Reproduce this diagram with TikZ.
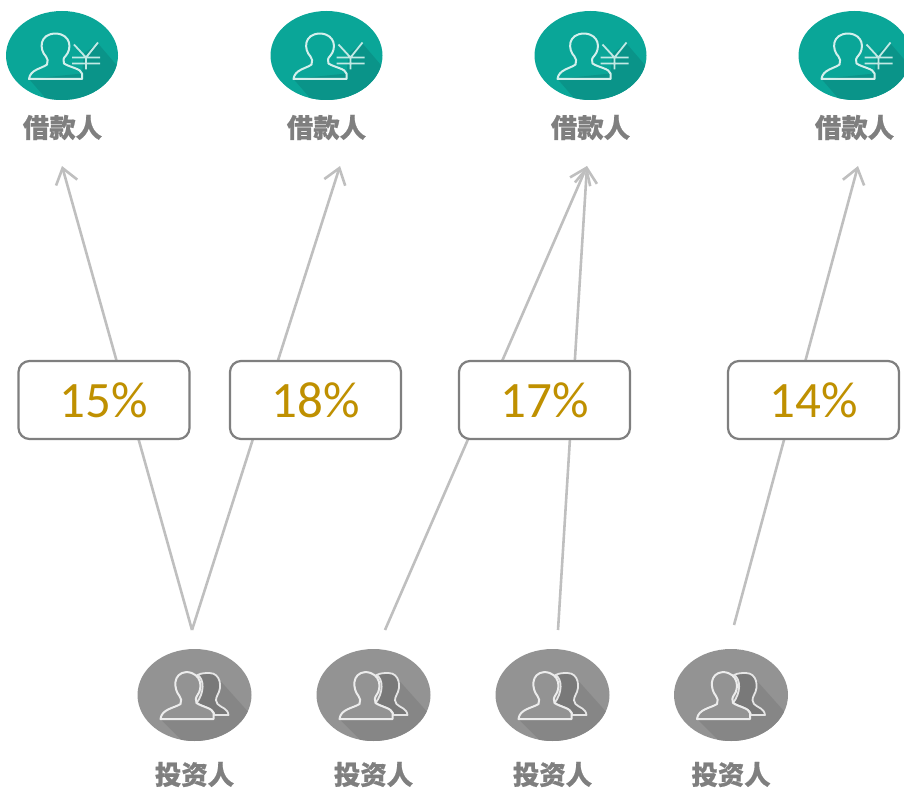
\documentclass[tikz,border=0pt]{standalone}
\usepackage{fontspec}
\usetikzlibrary{arrows.meta,backgrounds}
\newfontfamily\cjk[BoldFeatures={FakeBold=0.6}]{Noto Sans CJK SC}
\newfontfamily\pctfont{Carlito}
\definecolor{tealfill}{HTML}{0AA698}
\definecolor{tealshade}{HTML}{0A9489}
\definecolor{grayfill}{HTML}{939393}
\definecolor{grayshade}{HTML}{868686}
\definecolor{linegray}{HTML}{BFBFBF}
\definecolor{boxgray}{HTML}{7F7F7F}
\definecolor{gold}{HTML}{BF9000}
\tikzset{
  x=1pt,y=-1pt,
  iconline/.style={draw=white!82!tealfill,line width=2pt,line join=round},
  caption/.style={font=\cjk\bfseries\fontsize{26.4}{26.4}\selectfont,text=boxgray,inner sep=0pt},
  ratebox/.style={draw=boxgray,line width=2.2pt,fill=white,rounded corners=11pt,minimum width=171pt,minimum height=78pt,inner sep=0pt,font=\pctfont\fontsize{51}{51}\selectfont,text=gold},
  link/.style={draw=linegray,line width=2.6pt,-{Straight Barb[length=15pt,width=22pt,line width=2.6pt]}},
  pics/person/.style={code={
    \path[iconline] (-33,23.5) -- (20,23.5) -- (20,18) .. controls (19,13) and (8,12) .. (2,8)
      .. controls (1,5) and (1,3) .. (4,0) .. controls (10,-7) and (9,-21) .. (-6,-22)
      .. controls (-23,-22) and (-23,-6) .. (-16,1) .. controls (-14,3) and (-14,6) .. (-15,9)
      .. controls (-20,13) and (-32,14) .. (-33,23.5) -- cycle;
  }},
  pics/borrower/.style={code={
    \begin{scope}
      \clip (0,0) ellipse [x radius=56,y radius=44.5];
      \fill[tealfill] (-60,-50) rectangle (60,50);
      \fill[tealshade] (-33,23.5) -- (-10,50) -- (60,50) -- (60,16) -- (36,-12) -- (22,-2) -- (20,18) -- cycle;
    \end{scope}
    \pic {person};
    \draw[draw=white!75!tealfill,line width=1.8pt] (12,-11) -- (24,2) -- (36,-13) (24,2) -- (24,14) (10,2) -- (38,2) (10,8) -- (38,8);
  }},
  pics/investor/.style={code={
    \begin{scope}
      \clip (0,0) ellipse [x radius=57,y radius=46];
      \fill[grayfill] (-60,-50) rectangle (60,50);
      \fill[grayshade] (-34,24) -- (-8,50) -- (60,50) -- (60,24) -- (26,-14) -- (18,20) -- cycle;
    \end{scope}
    \path[draw=white!80!gray,line width=1.8pt,line join=round,fill=grayshade!90!black]
      (15,-22) .. controls (26,-22) and (28,-8) .. (23,0) .. controls (21,4) and (21,7) .. (23,9)
      .. controls (27,13) and (33,13) .. (34,20) -- (20,20) .. controls (19,13) and (8,12) .. (2,8)
      .. controls (10,-2) and (10,-16) .. (3,-20) .. controls (7,-22) and (11,-22) .. (15,-22) -- cycle;
    \path[draw=white!85!gray,line width=2pt,line join=round,fill=grayfill]
      (-34,24) -- (19,24) -- (19,18) .. controls (18,13) and (8,12) .. (2,8)
      .. controls (1,5) and (1,3) .. (3,0) .. controls (8,-6) and (8,-22) .. (-8,-23)
      .. controls (-22,-22) and (-21,-6) .. (-15,1) .. controls (-13,3) and (-13,6) .. (-14,9)
      .. controls (-20,13) and (-33,14) .. (-34,24) -- cycle;
  }}
}
\begin{document}
\begin{tikzpicture}
\useasboundingbox (0,0) rectangle (904,789);
% icons
\pic at (62,55.5) {borrower};
\pic at (326.5,55.5) {borrower};
\pic at (590.5,55.5) {borrower};
\pic at (854.5,55.5) {borrower};
\pic at (194.5,695) {investor};
\pic at (373.5,695) {investor};
\pic at (552.5,695) {investor};
\pic at (731,695) {investor};
% captions
\node[caption] (b1) at (62.5,127.5) {借款人};
\node[caption] (b2) at (326.5,127.5) {借款人};
\node[caption] (b3) at (590.5,127.5) {借款人};
\node[caption] (b4) at (854.5,127.5) {借款人};
\node[caption] (i1) at (194.5,774.5) {投资人};
\node[caption] (i2) at (373.5,774.5) {投资人};
\node[caption] (i3) at (552.5,774.5) {投资人};
\node[caption] (i4) at (731,774.5) {投资人};
% rate boxes
\node[ratebox] (r1) at (104,400) {15\%};
\node[ratebox] (r2) at (315.5,400) {18\%};
\node[ratebox] (r3) at (544.5,400) {17\%};
\node[ratebox] (r4) at (813.5,400) {14\%};
% connector ends
\coordinate (t1) at (62,166);
\coordinate (t2) at (340,166);
\coordinate (t3) at (587,166);
\coordinate (t4) at (858,166);
\coordinate (s1) at (192,630);
\coordinate (s2) at (385,630);
\coordinate (s3) at (558,630);
\coordinate (s4) at (734,625);
\begin{scope}[on background layer]
  \draw[link] (s1) -- (t1);
  \draw[link] (s1) -- (t2);
  \draw[link] (s2) -- (t3);
  \draw[link] (s3) -- (t3);
  \draw[link] (s4) -- (t4);
\end{scope}
\end{tikzpicture}
\end{document}
